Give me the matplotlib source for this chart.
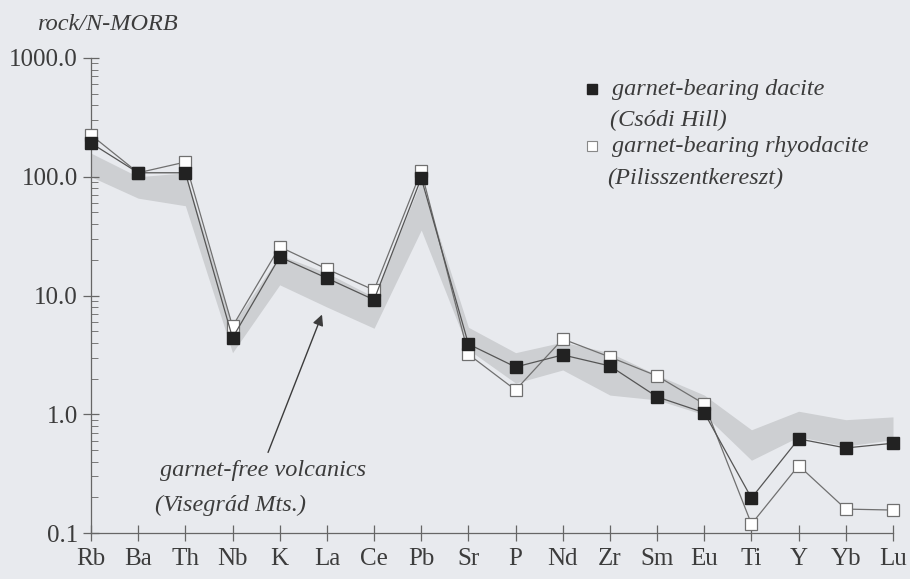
import matplotlib.pyplot as plt
import numpy as np

elements = ['Rb', 'Ba', 'Th', 'Nb', 'K', 'La', 'Ce', 'Pb', 'Sr', 'P', 'Nd',
            'Zr', 'Sm', 'Eu', 'Ti', 'Y', 'Yb', 'Lu']

# garnet-bearing dacite (Csodi Hill)
dacite = [192, 108, 108, 4.4, 21.1, 14.0, 9.2, 97.6, 3.9, 2.5, 3.16,
          2.55, 1.40, 1.03, 0.197, 0.62, 0.52, 0.57]
# garnet-bearing rhyodacite (Pilisszentkereszt)
rhyodacite = [225, 108, 133, 5.5, 25.7, 16.7, 11.1, 112, 3.2, 1.6, 4.3,
              3.03, 2.1, 1.22, 0.119, 0.37, 0.159, 0.156]
# garnet-free volcanics (Visegrad Mts.) field
field_upper = [158, 100, 108, 5.6, 21.9, 15.5, 9.7, 93, 5.4, 3.3, 4.05,
               3.3, 2.14, 1.45, 0.74, 1.06, 0.90, 0.95]
field_lower = [100, 66, 57, 3.3, 12.3, 8.0, 5.3, 35.6, 3.5, 1.83, 2.36,
               1.45, 1.32, 0.99, 0.41, 0.645, 0.54, 0.61]

yticks = [0.1, 1.0, 10.0, 100.0, 1000.0]

bg = '#e8eaee'
ink = '#3c3c3c'
plt.rcParams['font.family'] = ['Liberation Serif', 'DejaVu Serif']

fig = plt.figure(figsize=(9.1, 5.79), dpi=100, facecolor=bg)
ax = fig.add_axes([91 / 910, 1 - 533 / 579, 802 / 910, 475 / 579])
ax.set_facecolor(bg)

x = np.arange(len(elements))

# shaded field of the garnet-free volcanics
ax.fill_between(x, field_lower, field_upper, color='#cdcfd2', lw=0,
                zorder=1)

ax.plot(x, rhyodacite, color='#707070', lw=0.9, marker='s', ms=8.5,
        mfc='white', mec='#707070', mew=0.9, clip_on=False, zorder=3)
ax.plot(x, dacite, color='#555555', lw=0.9, marker='s', ms=8.5,
        mfc='#222222', mec='#222222', clip_on=False, zorder=4)

ax.set_yscale('log')
ax.set_ylim(0.1, 1000)
ax.set_xlim(0, len(elements) - 1)

ax.set_xticks(x)
ax.set_xticklabels(elements)
ax.set_yticks(yticks)
ax.set_yticklabels(['%.1f' % v for v in yticks])

for s in ['top', 'right']:
    ax.spines[s].set_visible(False)
for s in ['left', 'bottom']:
    ax.spines[s].set_color('#666666')
    ax.spines[s].set_linewidth(0.9)

ax.tick_params(axis='both', which='major', direction='inout', length=12,
               width=0.9, color='#666666', labelsize=18, labelcolor=ink)
ax.tick_params(axis='x', pad=5)
ax.tick_params(axis='y', which='minor', direction='in', length=5,
               width=0.7, color='#777777')
ax.yaxis.set_minor_formatter(plt.NullFormatter())

# legend drawn by hand
ax.plot([0.6247], [0.9347], 's', ms=7, mfc='#222222', mec='#222222',
        transform=ax.transAxes, clip_on=False)
ax.plot([0.6247], [0.8147], 's', ms=7, mfc='white', mec='#888888',
        mew=0.8, transform=ax.transAxes, clip_on=False)
kw = dict(transform=ax.transAxes, style='italic', fontsize=17.5, color=ink,
          va='center', ha='left')
ax.text(0.6496, 0.9347, 'garnet-bearing dacite', **kw)
ax.text(0.6470, 0.8695, '(Csódi Hill)', **kw)
ax.text(0.6496, 0.8147, 'garnet-bearing rhyodacite', **kw)
ax.text(0.6434, 0.7474, '(Pilisszentkereszt)', **kw)

# field label with arrow
ax.text(0.086, 0.1326, 'garnet-free volcanics', **kw)
ax.text(0.080, 0.059, '(Visegrád Mts.)', **kw)
ax.annotate('', xy=(0.2893, 0.4653), xytext=(0.2195, 0.1642),
            xycoords='axes fraction', textcoords='axes fraction',
            arrowprops=dict(arrowstyle='-|>', color=ink, lw=1.0,
                            mutation_scale=16))

fig.text(37 / 910, 1 - 25 / 579, 'rock/N-MORB', style='italic',
         fontsize=17.5, color=ink, va='center', ha='left')

fig.savefig('out.png', dpi=100, facecolor=bg)
